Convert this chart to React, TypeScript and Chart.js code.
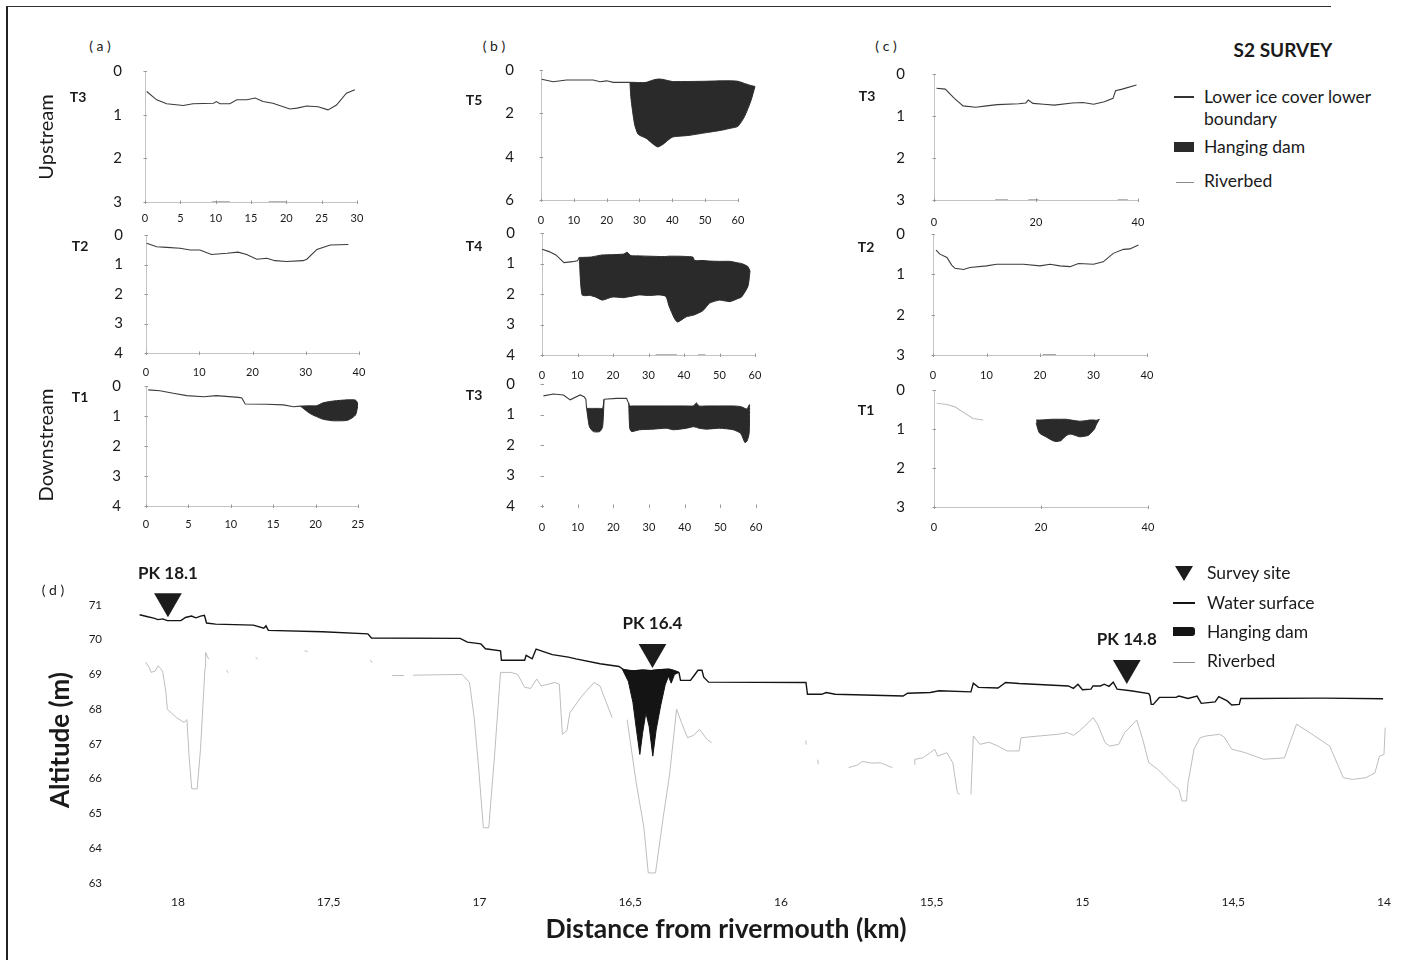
import React, { useEffect, useRef } from 'react';
import { Chart, registerables } from 'chart.js';
Chart.register(...registerables);

const FONT = 'Lato, "Open Sans", sans-serif';
const DAM = '#2a2a2a';
const ICE = '#3c3c3c';
const BED = '#bdbdbd';
const TXT = '#1a1a1a';

// ---------- (a) Upstream/Downstream panels ----------
const aT3IceX = [0.24, 1.65, 3.07, 5.4, 6.8, 9.7, 10.1, 10.6, 12.0, 13.0, 14.4, 15.6, 16.7, 18.1, 20.5, 21.5, 22.9, 24.5, 25.9, 27.1, 28.5, 29.7];
const aT3IceD = [0.47, 0.66, 0.75, 0.79, 0.75, 0.74, 0.70, 0.75, 0.75, 0.66, 0.66, 0.62, 0.70, 0.74, 0.87, 0.85, 0.80, 0.82, 0.89, 0.78, 0.51, 0.43];
const aT3BedX = [9.5, 12, 12.1, 17.5, 20];
const aT3BedD = [3, 3, null, 3, 3];

const aT2IceX = [0.13, 2.0, 3.9, 6.4, 8.3, 10.1, 12.3, 15.2, 17.3, 18.9, 20.8, 22.7, 24.2, 26.4, 29.5, 30.2, 32.1, 34.6, 38.0];
const aT2IceD = [0.28, 0.40, 0.42, 0.45, 0.51, 0.51, 0.66, 0.62, 0.58, 0.66, 0.82, 0.79, 0.87, 0.90, 0.87, 0.82, 0.49, 0.34, 0.32];

const aT1IceX = [0.27, 1.65, 3.2, 4.8, 6.8, 8.3, 10.9, 11.3, 11.7, 14.2, 16.2, 17.4, 18.2];
const aT1IceD = [0.13, 0.16, 0.24, 0.32, 0.36, 0.32, 0.38, 0.40, 0.60, 0.61, 0.63, 0.69, 0.67];
const aT1DamX = [18.2, 19.3, 20.1, 20.9, 22.1, 23.8, 24.7, 25.0];
const aT1DamTop = [0.67, 0.66, 0.66, 0.56, 0.50, 0.46, 0.47, 0.58];
const aT1DamBot = [0.67, 0.91, 1.02, 1.11, 1.16, 1.14, 0.97, 0.62];

// ---------- (b) panels ----------
const bT5IceX = [0.2, 3.7, 7.8, 15.9, 18.0, 20.0, 22.0, 27.1];
const bT5IceD = [0.43, 0.54, 0.46, 0.46, 0.54, 0.50, 0.57, 0.57];
const bT5DamX = [27.1, 27.4, 28.5, 29.5, 30.5, 32, 34, 35.5, 37, 40, 45, 50, 55, 58, 60, 62, 64, 65.2];
const bT5DamTop = [0.57, 0.57, 0.57, 0.58, 0.58, 0.57, 0.47, 0.42, 0.43, 0.53, 0.53, 0.52, 0.5, 0.5, 0.52, 0.62, 0.72, 0.76];
const bT5DamBot = [0.57, 1.3, 2.5, 2.95, 3.05, 3.15, 3.4, 3.55, 3.45, 3.1, 3.02, 2.9, 2.78, 2.68, 2.6, 2.15, 1.4, 0.76];

const bT4IceX = [0, 2.0, 3.9, 6.2, 8.6, 10.0, 10.5];
const bT4IceD = [0.53, 0.61, 0.72, 0.97, 0.94, 0.91, 0.8];
const bT4DamX = [10.5, 11.3, 13.6, 15.1, 17, 19.8, 23, 24, 25, 27.4, 30, 33, 34.9, 35.8, 37.3, 38.2, 40.6, 42.5, 43, 45.3, 47.2, 50, 52.9, 55.2, 56.2, 58, 58.6];
const bT4DamTop = [0.8, 0.8, 0.79, 0.76, 0.72, 0.71, 0.69, 0.63, 0.74, 0.75, 0.76, 0.77, 0.77, 0.76, 0.76, 0.76, 0.77, 0.79, 0.9, 0.9, 0.92, 0.93, 0.93, 0.98, 1.0, 1.1, 1.25];
const bT4DamBot = [0.8, 2.03, 2.05, 2.1, 2.2, 2.1, 2.12, 2.1, 2.08, 2.03, 2.05, 2.03, 2.08, 2.4, 2.8, 2.92, 2.75, 2.7, 2.68, 2.55, 2.3, 2.2, 2.25, 2.15, 2.1, 1.75, 1.25];
const bT4BedX = [32, 38, 38.1, 44, 46];
const bT4BedD = [4, 4, null, 4, 4];

const bT3IceX = [0.4, 3.2, 6, 7.9, 10.7, 11.8, 12.3, 12.5, 15, 17.4, 20.9, 23.7, 24.1, 24.3];
const bT3IceD = [0.39, 0.33, 0.36, 0.52, 0.36, 0.42, 0.5, 0.8, null, 0.5, 0.47, 0.47, 0.58, 0.62];
const bT3Dam1X = [12.5, 13.3, 14.4, 16.2, 17.0, 17.4];
const bT3Dam1Top = [0.8, 0.8, 0.8, 0.8, 0.8, 0.5];
const bT3Dam1Bot = [0.8, 1.4, 1.56, 1.56, 1.4, 0.5];
const bT3Dam2X = [24.3, 24.6, 25.1, 27.4, 31.2, 34.9, 36.8, 40.5, 42.4, 43.3, 44, 46.1, 49.8, 53.6, 55.7, 56.9, 57.5, 58.1, 58.2];
const bT3Dam2Top = [0.62, 0.72, 0.72, 0.72, 0.72, 0.72, 0.72, 0.72, 0.72, 0.62, 0.72, 0.72, 0.72, 0.72, 0.74, 0.8, 0.82, 0.68, 0.68];
const bT3Dam2Bot = [0.62, 1.45, 1.56, 1.5, 1.48, 1.45, 1.5, 1.45, 1.4, 1.42, 1.45, 1.48, 1.45, 1.5, 1.62, 1.92, 1.87, 1.6, 0.68];

// ---------- (c) panels ----------
const cT3IceX = [0.5, 2.2, 4.0, 5.7, 8.2, 10.3, 12.4, 16.6, 18.0, 18.5, 19.4, 21.5, 23.6, 27.1, 29.2, 31.3, 33.4, 35.1, 35.6, 36.9, 39.7];
const cT3IceD = [0.34, 0.36, 0.58, 0.76, 0.79, 0.76, 0.73, 0.71, 0.69, 0.62, 0.70, 0.72, 0.74, 0.69, 0.68, 0.72, 0.66, 0.58, 0.40, 0.36, 0.26];
const cT3BedX = [12, 14.5, 14.6, 18.5, 20.5, 20.6, 36, 38];
const cT3BedD = [3, 3, null, 3, 3, null, 3, 3];

const cT2IceX = [0.56, 1.3, 2.6, 3.5, 4.1, 5.7, 6.9, 10.0, 11.9, 16.9, 20.0, 21.9, 23.7, 25.6, 27.2, 30, 31.8, 33.7, 35.6, 36.8, 38.4];
const cT2IceD = [0.40, 0.50, 0.58, 0.77, 0.85, 0.88, 0.83, 0.79, 0.75, 0.75, 0.79, 0.75, 0.79, 0.81, 0.73, 0.75, 0.69, 0.48, 0.38, 0.37, 0.27];
const cT2BedX = [20.5, 23];
const cT2BedD = [3, 3];

const cT1IceX = [0.5, 2.4, 3.9, 5.8, 7.3, 9.2];
const cT1IceD = [0.34, 0.37, 0.43, 0.60, 0.73, 0.77];
const cT1DamX = [19.1, 19.7, 20.9, 22.2, 22.8, 23.7, 24.7, 25.6, 27.2, 28.7, 29.0, 30.0, 30.3, 30.9];
const cT1DamTop = [0.77, 0.77, 0.76, 0.75, 0.75, 0.75, 0.75, 0.77, 0.8, 0.78, 0.77, 0.77, 0.78, 0.75];
const cT1DamBot = [0.85, 1.1, 1.2, 1.3, 1.32, 1.3, 1.17, 1.13, 1.2, 1.17, 1.15, 1.0, 0.9, 0.75];

// ---------- (d) longitudinal profile ----------
const waterKm = [18.127, 18.10, 18.08, 18.066, 18.05, 18.035, 17.99, 17.975, 17.955, 17.94, 17.925, 17.912, 17.905, 17.875, 17.75, 17.715, 17.708, 17.70, 17.52, 17.37, 17.358, 17.064, 17.04, 16.995, 16.98, 16.93, 16.927, 16.85, 16.845, 16.825, 16.812, 16.795, 16.758, 16.705, 16.68, 16.60, 16.537, 16.52, 16.49, 16.46, 16.43, 16.40, 16.37, 16.345, 16.338, 16.333, 16.30, 16.288, 16.275, 16.262, 16.256, 16.24, 15.917, 15.912, 15.865, 15.85, 15.82, 15.595, 15.58, 15.505, 15.475, 15.37, 15.362, 15.345, 15.28, 15.255, 15.21, 15.047, 15.03, 15.015, 15.0, 14.972, 14.965, 14.94, 14.928, 14.912, 14.898, 14.885, 14.84, 14.78, 14.776, 14.772, 14.765, 14.745, 14.69, 14.68, 14.65, 14.62, 14.606, 14.56, 14.548, 14.52, 14.505, 14.48, 14.475, 14.20, 14.003];
const waterAlt = [70.72, 70.66, 70.62, 70.58, 70.60, 70.55, 70.55, 70.64, 70.68, 70.63, 70.68, 70.70, 70.48, 70.45, 70.42, 70.33, 70.40, 70.27, 70.23, 70.17, 70.05, 70.04, 69.93, 69.88, 69.74, 69.68, 69.41, 69.41, 69.55, 69.45, 69.73, 69.68, 69.57, 69.50, 69.45, 69.31, 69.23, 69.13, 69.10, 69.13, 69.11, 69.14, 69.15, 69.08, 69.05, 68.83, 68.83, 68.97, 69.12, 69.12, 68.92, 68.78, 68.77, 68.43, 68.43, 68.48, 68.43, 68.38, 68.46, 68.48, 68.53, 68.50, 68.75, 68.63, 68.61, 68.77, 68.74, 68.67, 68.60, 68.72, 68.56, 68.58, 68.67, 68.67, 68.72, 68.66, 68.78, 68.58, 68.53, 68.45, 68.38, 68.14, 68.14, 68.34, 68.34, 68.38, 68.31, 68.38, 68.17, 68.21, 68.36, 68.24, 68.12, 68.14, 68.31, 68.32, 68.30];

const bedKm = [18.107, 18.095, 18.089, 18.075, 18.066, 18.055, 18.05, 18.04, 18.035, 18.005, 17.98, 17.97, 17.963, 17.954, 17.936, 17.925, 17.91, 17.908, 17.898, 17.89,
  17.838, 17.834, 17.83, 17.742, 17.736, 17.73, 17.58, 17.57, 17.56, 17.362, 17.356, 17.35,
  17.29, 17.25, 17.24, 17.22, 17.07, 17.057, 17.033, 17.018, 17.003, 16.987, 16.969, 16.95, 16.93, 16.896, 16.873, 16.85, 16.83, 16.81, 16.795, 16.75, 16.735, 16.725, 16.71, 16.70, 16.66, 16.62, 16.60, 16.56, 16.54,
  16.51, 16.48, 16.455, 16.44, 16.416, 16.39, 16.37, 16.346, 16.33, 16.31, 16.29, 16.27, 16.245, 16.23, 16.0,
  15.918, 15.916, 15.9, 15.878, 15.876, 15.85,
  15.775, 15.745, 15.73, 15.70, 15.67, 15.63, 15.6,
  15.557, 15.556, 15.53, 15.505, 15.49, 15.48, 15.45, 15.43, 15.415, 15.407, 15.39,
  15.37, 15.362, 15.34, 15.31, 15.28, 15.25, 15.21, 15.204, 15.144, 15.08, 15.05, 15.03, 15.01, 14.98, 14.965, 14.95, 14.925, 14.91, 14.88, 14.86, 14.82, 14.80, 14.78, 14.75, 14.705, 14.68, 14.67, 14.655, 14.65, 14.63, 14.61, 14.59, 14.545, 14.53, 14.505, 14.46, 14.40, 14.33, 14.32, 14.29, 14.23, 14.18, 14.135, 14.105, 14.06, 14.03, 14.015, 14.0, 13.996];
const bedAlt = [69.35, 69.2, 69.06, 69.1, 69.25, 69.15, 69.06, 68.5, 68.0, 67.76, 67.62, 67.7, 66.65, 65.71, 65.71, 66.85, 69.2, 69.63, 69.44, null,
  69.12, 69.05, null, 69.5, 69.44, null, 69.68, 69.66, null, 69.42, 69.34, null,
  68.97, 68.97, null, 68.98, 69.0, 69.0, 68.77, 67.81, 66.37, 64.59, 64.59, 66.65, 69.06, 69.06, 69.0, 68.63, 68.6, 68.87, 68.67, 68.77, 68.72, 67.28, 67.38, 67.9, 68.38, 68.77, 68.67, 67.76, null,
  67.7, 65.88, 64.63, 63.29, 63.29, 64.92, 66.08, 68.0, 67.62, 67.18, 67.25, 67.42, 67.13, 67.04, null,
  67.1, 66.98, null, 66.55, 66.42, null,
  66.32, 66.4, 66.5, 66.45, 66.46, 66.32, null,
  66.4, 66.56, 66.6, 66.75, 66.85, 66.65, 66.75, 66.46, 65.6, 65.55, null,
  65.55, 67.23, 66.99, 67.05, 66.94, 66.8, 66.8, 67.18, 67.23, 67.28, 67.33, 67.25, 67.38, 67.62, 67.76, 67.57, 67.04, 66.94, 66.99, 67.33, 67.69, 67.13, 66.46, 66.27, 65.88, 65.69, 65.36, 65.36, 65.88, 66.85, 67.18, 67.23, 67.28, 67.2, 66.85, 66.75, 66.56, 66.6, 66.85, 67.57, 67.23, 66.94, 66.03, 65.98, 66.03, 66.17, 66.65, 66.7, 67.47];

const damKm = [16.526, 16.506, 16.491, 16.479, 16.468, 16.459, 16.448, 16.437, 16.425, 16.414, 16.399, 16.384, 16.373, 16.364, 16.353, 16.338];
const damTopAlt = [69.15, 69.12, 69.11, 69.10, 69.11, 69.12, 69.12, 69.11, 69.12, 69.13, 69.14, 69.15, 69.15, 69.14, 69.11, 69.06];
const damBotAlt = [69.15, 68.8, 68.2, 67.4, 66.7, 67.3, 67.9, 67.5, 66.65, 67.4, 68.1, 68.7, 68.95, 68.75, 69.0, 69.06];

const siteKm = [18.033, 16.426, 14.853];
const siteAlt = [71.11, 69.65, 69.19];
const siteLabels = ['PK 18.1', 'PK 16.4', 'PK 14.8'];

const dTicksX = [18, 17.5, 17, 16.5, 16, 15.5, 15, 14.5, 14];
const dTicksY = [63, 64, 65, 66, 67, 68, 69, 70, 71];

const pts = (xs: number[], ys: (number | null)[]) => xs.map((x, i) => ({ x, y: ys[i] }));

// ---------- plugins ----------
const miniAxes = {
  id: 'miniAxes',
  beforeDatasetsDraw(chart: any, _a: any, opts: any) {
    const { ctx, chartArea: a, scales } = chart;
    const xs = scales.x, ys = scales.y;
    const xEnd = xs.getPixelForValue(opts.xEnd);
    ctx.save();
    ctx.lineWidth = 1;
    ctx.strokeStyle = opts.color;
    ctx.beginPath();
    ctx.moveTo(Math.round(a.left) + 0.5, a.top);
    ctx.lineTo(Math.round(a.left) + 0.5, a.bottom);
    ctx.moveTo(a.left, Math.round(a.bottom) + 0.5);
    ctx.lineTo(xEnd, Math.round(a.bottom) + 0.5);
    ctx.stroke();
    ctx.strokeStyle = opts.tickColor;
    ctx.beginPath();
    xs.ticks.forEach((t: any) => {
      const px = Math.round(xs.getPixelForValue(t.value)) + 0.5;
      ctx.moveTo(px, a.bottom - 1.5);
      ctx.lineTo(px, a.bottom + 2);
    });
    ys.ticks.forEach((t: any) => {
      const py = Math.round(ys.getPixelForValue(t.value)) + 0.5;
      ctx.moveTo(a.left - 1.5, py);
      ctx.lineTo(a.left + 2, py);
    });
    ctx.stroke();
    ctx.restore();
  },
};

const siteText = {
  id: 'siteText',
  afterDatasetsDraw(chart: any, _a: any, opts: any) {
    const meta = chart.getDatasetMeta(opts.index);
    const ctx = chart.ctx;
    ctx.save();
    ctx.font = `bold 17px ${FONT}`;
    ctx.fillStyle = TXT;
    ctx.textAlign = 'center';
    ctx.textBaseline = 'middle';
    meta.data.forEach((el: any, i: number) => {
      ctx.fillText(opts.labels[i], el.x, el.y - opts.offset);
    });
    ctx.restore();
  },
};

const noPadX = (s: any, h: number) => { s.height = h; s.paddingLeft = 0; s.paddingRight = 0; s.paddingTop = 0; s.paddingBottom = 0; };
const noPadY = (s: any, w: number) => { s.width = w; s.paddingLeft = 0; s.paddingRight = 0; s.paddingTop = 0; s.paddingBottom = 0; };

// ---------- small panel ----------
type Dam = { x: number[]; top: number[]; bot: number[] };
type PanelCfg = {
  L: number; T: number; R: number; B: number;
  xMax: number; xTicks: number[]; xEnd: number;
  yMax: number; yTicks: number[];
  yPad: number; xPad: number;
  iceX: number[]; iceD: (number | null)[]; iceColor: string;
  bedX?: number[]; bedD?: (number | null)[];
  dams: Dam[];
  axisColor: string;
};

const YW = 60, XH = 34, PT = 8, PR = 8;

function SmallPanel({ p }: { p: PanelCfg }) {
  const ref = useRef<HTMLCanvasElement>(null);
  useEffect(() => {
    const datasets: any[] = [];
    datasets.push({ data: pts(p.iceX, p.iceD), borderColor: p.iceColor, borderWidth: 1.1, pointRadius: 0, fill: false, tension: 0 });
    if (p.bedX && p.bedD) {
      datasets.push({ data: pts(p.bedX, p.bedD), borderColor: '#6a6a6a', borderWidth: 1.2, pointRadius: 0, fill: false, tension: 0 });
    }
    p.dams.forEach((d) => {
      datasets.push({ data: pts(d.x, d.top), borderColor: DAM, borderWidth: 1, pointRadius: 0, fill: false, tension: 0.2 });
      datasets.push({ data: pts(d.x, d.bot), borderColor: DAM, borderWidth: 1, pointRadius: 0, fill: '-1', backgroundColor: DAM, tension: 0.2 });
    });
    const chart = new Chart(ref.current!, {
      type: 'line',
      data: { datasets },
      plugins: [miniAxes as any],
      options: {
        animation: false,
        responsive: false,
        layout: { padding: { top: PT, right: PR, left: 0, bottom: 0 }, autoPadding: false } as any,
        plugins: { legend: { display: false }, tooltip: { enabled: false }, miniAxes: { xEnd: p.xEnd, color: p.axisColor, tickColor: '#9a9a9a' } } as any,
        scales: {
          x: {
            type: 'linear', min: 0, max: p.xMax,
            grid: { display: false, drawTicks: false }, border: { display: false },
            afterBuildTicks: (s: any) => { s.ticks = p.xTicks.map((v) => ({ value: v })); },
            afterFit: (s: any) => noPadX(s, XH),
            ticks: { font: { family: FONT, size: 11 }, color: TXT, padding: p.xPad, maxRotation: 0, autoSkip: false },
          },
          y: {
            type: 'linear', min: 0, max: p.yMax, reverse: true,
            grid: { display: false, drawTicks: false }, border: { display: false },
            afterBuildTicks: (s: any) => { s.ticks = p.yTicks.map((v) => ({ value: v })); },
            afterFit: (s: any) => noPadY(s, YW),
            ticks: { font: { family: FONT, size: 15 }, color: TXT, padding: p.yPad, autoSkip: false },
          },
        },
      },
    });
    return () => chart.destroy();
  }, []);
  const w = p.R - p.L + YW + PR;
  const h = p.B - p.T + PT + XH;
  return <canvas ref={ref} width={w} height={h} style={{ position: 'absolute', left: p.L - YW, top: p.T - PT, width: w, height: h }} />;
}

// ---------- profile panel (d) ----------
const D_TOP = 550, D_AREA_L = 120, D_AREA_R = 1395, D_AREA_T = 587.6, D_AREA_B = 883, D_XH = 34;

function ProfilePanel() {
  const ref = useRef<HTMLCanvasElement>(null);
  useEffect(() => {
    const chart = new Chart(ref.current!, {
      type: 'line',
      data: {
        datasets: [
          { data: pts(siteKm, siteAlt), showLine: false, pointStyle: 'triangle', rotation: 180, pointRadius: 16, pointBackgroundColor: '#1c1c1c', pointBorderWidth: 0, borderColor: '#1c1c1c' } as any,
          { data: pts(waterKm, waterAlt), borderColor: '#141414', borderWidth: 1.4, pointRadius: 0, fill: false, tension: 0 },
          { data: pts(damKm, damTopAlt), borderColor: '#141414', borderWidth: 1, pointRadius: 0, fill: false, tension: 0 },
          { data: pts(damKm, damBotAlt), borderColor: '#141414', borderWidth: 1, pointRadius: 0, fill: '-1', backgroundColor: '#141414', tension: 0 },
          { data: pts(bedKm, bedAlt), borderColor: BED, borderWidth: 1, pointRadius: 0, fill: false, tension: 0, spanGaps: false },
        ],
      },
      plugins: [siteText as any],
      options: {
        animation: false,
        responsive: false,
        layout: { padding: { top: D_AREA_T - D_TOP, right: 1409 - D_AREA_R, left: 0, bottom: 0 }, autoPadding: false } as any,
        plugins: { legend: { display: false }, tooltip: { enabled: false }, siteText: { index: 0, labels: siteLabels, offset: 28 } } as any,
        scales: {
          x: {
            type: 'linear', reverse: true, min: 13.9635, max: 18.192,
            grid: { display: false, drawTicks: false }, border: { display: false },
            afterBuildTicks: (s: any) => { s.ticks = dTicksX.map((v) => ({ value: v })); },
            afterFit: (s: any) => noPadX(s, D_XH),
            ticks: { font: { family: FONT, size: 12 }, color: TXT, padding: 12, maxRotation: 0, autoSkip: false, callback: (v: any) => String(v).replace('.', ',') },
          },
          y: {
            type: 'linear', min: 63, max: 71.5,
            grid: { display: false, drawTicks: false }, border: { display: false },
            afterBuildTicks: (s: any) => { s.ticks = dTicksY.map((v) => ({ value: v })); },
            afterFit: (s: any) => noPadY(s, D_AREA_L),
            ticks: { font: { family: FONT, size: 11.5 }, color: TXT, padding: 18, autoSkip: false },
          },
        },
      },
    });
    return () => chart.destroy();
  }, []);
  const h = D_AREA_B - D_TOP + D_XH;
  return <canvas ref={ref} width={1409} height={h} style={{ position: 'absolute', left: 0, top: D_TOP, width: 1409, height: h }} />;
}

function Txt({ x, y, s, b, left, r, color, children }: any) {
  const tr = (left ? 'translate(0,-50%)' : 'translate(-50%,-50%)') + (r ? ` rotate(${r}deg)` : '');
  return (
    <div style={{ position: 'absolute', left: x, top: y, transform: tr, fontSize: s, fontWeight: b ? 700 : 400, whiteSpace: 'pre', lineHeight: 1.15, color: color || TXT, fontFamily: FONT }}>
      {children}
    </div>
  );
}

const range = (a: number, b: number, st: number) => { const r: number[] = []; for (let v = a; v <= b + 1e-9; v += st) r.push(v); return r; };

const panels: PanelCfg[] = [
  { L: 145, T: 71, R: 357, B: 202, xMax: 30, xTicks: range(0, 30, 5), xEnd: 30, yMax: 3, yTicks: [0, 1, 2, 3], yPad: 23, xPad: 10, iceX: aT3IceX, iceD: aT3IceD, iceColor: ICE, bedX: aT3BedX, bedD: aT3BedD, dams: [], axisColor: '#c4c4c4' },
  { L: 146, T: 235, R: 359, B: 353, xMax: 40, xTicks: range(0, 40, 10), xEnd: 40, yMax: 4, yTicks: [0, 1, 2, 3, 4], yPad: 23, xPad: 13, iceX: aT2IceX, iceD: aT2IceD, iceColor: ICE, dams: [], axisColor: '#c4c4c4' },
  { L: 146, T: 386, R: 358, B: 506, xMax: 25, xTicks: range(0, 25, 5), xEnd: 25, yMax: 4, yTicks: [0, 1, 2, 3, 4], yPad: 25, xPad: 12, iceX: aT1IceX, iceD: aT1IceD, iceColor: ICE, dams: [{ x: aT1DamX, top: aT1DamTop, bot: aT1DamBot }], axisColor: '#c4c4c4' },
  { L: 541, T: 70, R: 756, B: 200, xMax: 65.5, xTicks: range(0, 60, 10), xEnd: 60, yMax: 6, yTicks: [0, 2, 4, 6], yPad: 27, xPad: 14, iceX: bT5IceX, iceD: bT5IceD, iceColor: ICE, dams: [{ x: bT5DamX, top: bT5DamTop, bot: bT5DamBot }], axisColor: '#c4c4c4' },
  { L: 542, T: 233, R: 755, B: 355, xMax: 60, xTicks: range(0, 60, 10), xEnd: 60, yMax: 4, yTicks: [0, 1, 2, 3, 4], yPad: 27, xPad: 14, iceX: bT4IceX, iceD: bT4IceD, iceColor: ICE, bedX: bT4BedX, bedD: bT4BedD, dams: [{ x: bT4DamX, top: bT4DamTop, bot: bT4DamBot }], axisColor: '#c4c4c4' },
  { L: 542, T: 384, R: 756, B: 506, xMax: 60, xTicks: range(0, 60, 10), xEnd: 60, yMax: 4, yTicks: [0, 1, 2, 3, 4], yPad: 27, xPad: 15, iceX: bT3IceX, iceD: bT3IceD, iceColor: ICE, dams: [{ x: bT3Dam1X, top: bT3Dam1Top, bot: bT3Dam1Bot }, { x: bT3Dam2X, top: bT3Dam2Top, bot: bT3Dam2Bot }], axisColor: 'rgba(0,0,0,0)' },
  { L: 934, T: 74, R: 1138, B: 200, xMax: 40, xTicks: [0, 20, 40], xEnd: 40, yMax: 3, yTicks: [0, 1, 2, 3], yPad: 29, xPad: 16, iceX: cT3IceX, iceD: cT3IceD, iceColor: ICE, bedX: cT3BedX, bedD: cT3BedD, dams: [], axisColor: '#c4c4c4' },
  { L: 933, T: 234, R: 1147, B: 355, xMax: 40, xTicks: range(0, 40, 10), xEnd: 40, yMax: 3, yTicks: [0, 1, 2, 3], yPad: 28, xPad: 14, iceX: cT2IceX, iceD: cT2IceD, iceColor: ICE, bedX: cT2BedX, bedD: cT2BedD, dams: [], axisColor: '#c4c4c4' },
  { L: 934, T: 390, R: 1148, B: 507, xMax: 40, xTicks: [0, 20, 40], xEnd: 40, yMax: 3, yTicks: [0, 1, 2, 3], yPad: 29, xPad: 14, iceX: cT1IceX, iceD: cT1IceD, iceColor: '#bdbdbd', dams: [{ x: cT1DamX, top: cT1DamTop, bot: cT1DamBot }], axisColor: '#c4c4c4' },
];

const lineSample = (x: number, y: number, w: number, h: number, c: string) => (
  <div style={{ position: 'absolute', left: x, top: y - h / 2, width: w, height: h, background: c }} />
);

export default function App() {
  return (
    <div style={{ position: 'absolute', left: 0, top: 0, width: 1409, height: 963, background: '#fff', fontFamily: FONT, overflow: 'hidden' }}>
      {/* frame */}
      <div style={{ position: 'absolute', left: 6, top: 6, width: 1.5, height: 954, background: '#222' }} />
      <div style={{ position: 'absolute', left: 6, top: 6, width: 1325, height: 1.2, background: '#333' }} />

      {panels.map((p, i) => <SmallPanel key={i} p={p} />)}
      <ProfilePanel />

      {/* panel letters */}
      <Txt x={100} y={46} s={14}>( a )</Txt>
      <Txt x={494} y={46} s={14}>( b )</Txt>
      <Txt x={886} y={46} s={14}>( c )</Txt>
      <Txt x={53} y={590} s={14}>( d )</Txt>

      {/* transect labels */}
      <Txt x={78} y={97} s={14} b>T3</Txt>
      <Txt x={80} y={246} s={14} b>T2</Txt>
      <Txt x={80} y={397} s={14} b>T1</Txt>
      <Txt x={474} y={100} s={14} b>T5</Txt>
      <Txt x={474} y={246} s={14} b>T4</Txt>
      <Txt x={474} y={395} s={14} b>T3</Txt>
      <Txt x={867} y={96} s={14} b>T3</Txt>
      <Txt x={866} y={247} s={14} b>T2</Txt>
      <Txt x={866} y={410} s={14} b>T1</Txt>

      <Txt x={45} y={137} s={20} r={-90}>Upstream</Txt>
      <Txt x={45} y={445} s={20} r={-90}>Downstream</Txt>

      <Txt x={60} y={740} s={26} b r={-90}>Altitude (m)</Txt>
      <Txt x={726} y={928} s={26.5} b>Distance from rivermouth (km)</Txt>

      {/* top legend */}
      <Txt x={1283} y={50} s={19} b>S2 SURVEY</Txt>
      {lineSample(1174, 97, 20, 2, '#333')}
      <Txt x={1204} y={97} s={17.5} left>Lower ice cover lower</Txt>
      <Txt x={1204} y={119} s={17.5} left>boundary</Txt>
      {lineSample(1174, 147, 20, 10, DAM)}
      <Txt x={1204} y={147} s={17.5} left>Hanging dam</Txt>
      {lineSample(1176, 182, 18, 1, '#8a8a8a')}
      <Txt x={1204} y={181} s={17.5} left>Riverbed</Txt>

      {/* bottom legend */}
      <div style={{ position: 'absolute', left: 1175, top: 566, width: 0, height: 0, borderLeft: '9.5px solid transparent', borderRight: '9.5px solid transparent', borderTop: '15px solid #1c1c1c' }} />
      <Txt x={1207} y={573} s={17.5} left>Survey site</Txt>
      {lineSample(1173, 603, 22, 2, '#141414')}
      <Txt x={1207} y={603} s={17.5} left>Water surface</Txt>
      <div style={{ position: 'absolute', left: 1173, top: 627, width: 22, height: 9, background: '#141414', borderRadius: '0 3px 3px 0' }} />
      <Txt x={1207} y={632} s={17.5} left>Hanging dam</Txt>
      {lineSample(1173, 662, 22, 1, '#8a8a8a')}
      <Txt x={1207} y={661} s={17.5} left>Riverbed</Txt>
    </div>
  );
}
